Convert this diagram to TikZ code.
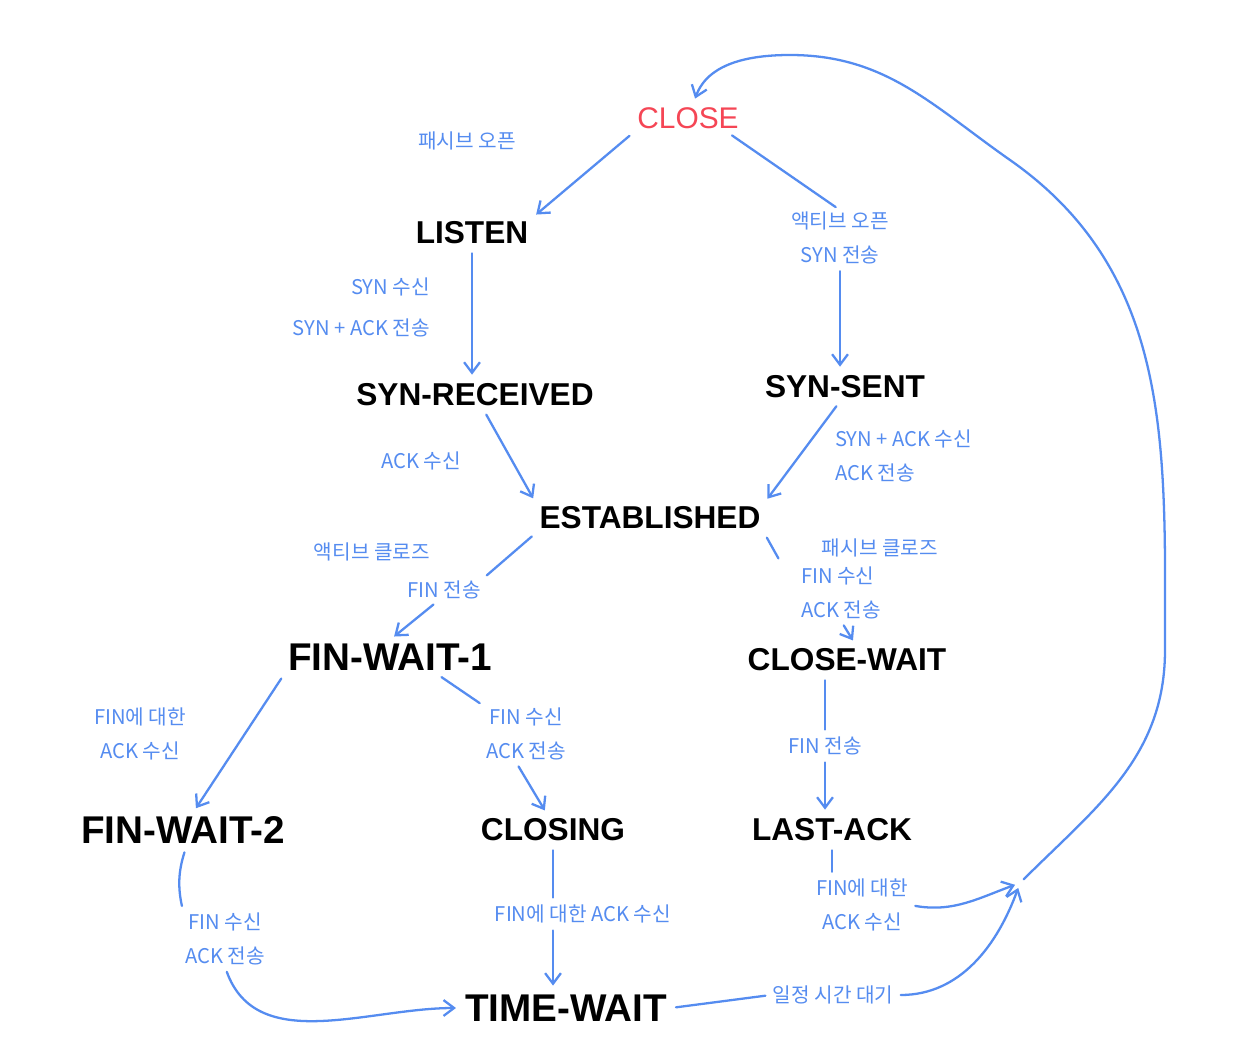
\documentclass[tikz,border=0pt]{standalone}
\usepackage{fontspec}
\newfontfamily\kr{Noto Sans CJK KR}
\newfontfamily\statefont{Liberation Sans}
\usetikzlibrary{arrows.meta}
\definecolor{penblue}{RGB}{85,140,240}
\definecolor{penred}{RGB}{245,70,85}
\tikzset{
  state/.style={font=\statefont\bfseries\fontsize{18}{20}\selectfont, inner sep=2pt},
  bigstate/.style={state, font=\statefont\bfseries\fontsize{22}{24}\selectfont},
  note/.style={text=penblue, font=\kr\fontsize{11.5}{19}\selectfont, inner sep=1pt},
  pen/.style={draw=penblue, line width=1.3pt, line cap=round, shorten <=3pt, shorten >=3pt},
  arr/.style={pen, -{Straight Barb[length=6pt,width=9pt]}},
}
\begin{document}
\begin{tikzpicture}[x=0.02cm, y=0.02cm]
      \path[fill=white] (0,0) rectangle (1258,-1058);
      \useasboundingbox (0,0) rectangle (1258,-1058);
      % states
      \node[state, text=penred, font=\statefont\fontsize{17}{20}\selectfont] (close) at (688,-118) {CLOSE};
      \node[state] (listen) at (472,-233) {LISTEN};
      \node[state] (synrcvd) at (475,-395) {SYN-RECEIVED};
      \node[state] (synsent) at (845,-387) {SYN-SENT};
      \node[state] (est) at (650,-518) {ESTABLISHED};
      \node[bigstate] (fw1) at (390,-657) {FIN-WAIT-1};
      \node[state] (closewait) at (847,-660) {CLOSE-WAIT};
      \node[bigstate] (fw2) at (183,-830) {FIN-WAIT-2};
      \node[state] (closing) at (553,-830) {CLOSING};
      \node[state] (lastack) at (832,-830) {LAST-ACK};
      \node[bigstate] (tw) at (566,-1008) {TIME-WAIT};
      %
      % labels
      \node[note] (popen) at (467,-141) {패시브 오픈};
      \node[note, align=center] (aopen) at (840,-238) {액티브 오픈\\SYN 전송};
      \node[note, anchor=east] (synrx) at (432,-287) {SYN 수신};
      \node[note, anchor=east] (synacktx) at (432,-328) {SYN + ACK 전송};
      \node[note] (ackrx) at (421,-461) {ACK 수신};
      \node[note, align=left, anchor=west] (synackrx) at (833,-456) {SYN + ACK 수신\\ACK 전송};
      \node[note] (aclose) at (372,-552) {액티브 클로즈};
      \node[note] (fintx) at (444,-590) {FIN 전송};
      \node[note] (pclose) at (880,-548) {패시브 클로즈};
      \node[note, align=left, anchor=west] (finrx) at (799,-593) {FIN 수신\\ACK 전송};
      \node[note, align=center] (fw1ack) at (140,-734) {FIN에 대한\\ACK 수신};
      \node[note, align=center] (fw1fin) at (526,-734) {FIN 수신\\ACK 전송};
      \node[note] (cwfin) at (825,-746) {FIN 전송};
      \node[note, align=center] (laack) at (862,-905) {FIN에 대한\\ACK 수신};
      \node[note, align=center] (fw2fin) at (225,-939) {FIN 수신\\ACK 전송};
      \node[note] (clack) at (583,-914) {FIN에 대한 ACK 수신};
      \node[note] (twwait) at (833,-995) {일정 시간 대기};
      \coordinate (hub) at (1020,-883);
      \coordinate (cwtail) at (781,-563);
      %
      % transitions
      \draw[arr] (close.south west) -- (listen.north east);
      \draw[pen] (close.-20) -- (aopen.north);
      \draw[arr] (aopen.south) -- (synsent.north -| aopen.south);
      \draw[arr] (listen.south) -- (synrcvd.north -| listen.south);
      \draw[arr] (synrcvd.-60) -- (est.north west);
      \draw[arr] (synsent.-110) -- (est.north east);
      \draw[pen] (est.south west) -- (fintx.north east);
      \draw[arr] (fintx.-120) -- (fw1.north);
      \draw[pen] (est.south east) -- (cwtail);
      \draw[arr] (finrx.south) -- (closewait.60);
      \draw[arr] (fw1.south west) -- (fw2.60);
      \draw[pen] (fw1.-20) -- (fw1fin.north west);
      \draw[arr] (fw1fin.-110) -- (closing.110);
      \draw[pen] (closewait.south -| cwfin.north) -- (cwfin.north);
      \draw[arr] (cwfin.south) -- (lastack.north -| cwfin.south);
      \draw[pen] (lastack.south) -- (lastack.south |- laack.north);
      \draw[arr] (laack.east) to[out=-10,in=-160] (hub);
      \draw[pen] (tw.east) -- (twwait.west);
      \draw[arr] (twwait.east) to[out=0,in=-110] (hub);
      \draw[arr] (hub) to[out=45,in=-90] (1165,-650) to[out=90,in=-35] (1010,-160)
        to[out=145,in=0] (790,-55) to[out=180,in=70] (close.70);
      \draw[pen] (fw2.-80) to[bend right=15] (fw2fin.north west);
      \draw[arr] (fw2fin.south) to[out=-70,in=180] (tw.west);
      \draw[pen] (closing.south) -- (closing.south |- clack.north);
      \draw[arr] (clack.south -| closing.south) -- (tw.north -| closing.south);
      %
\end{tikzpicture}
\end{document}
